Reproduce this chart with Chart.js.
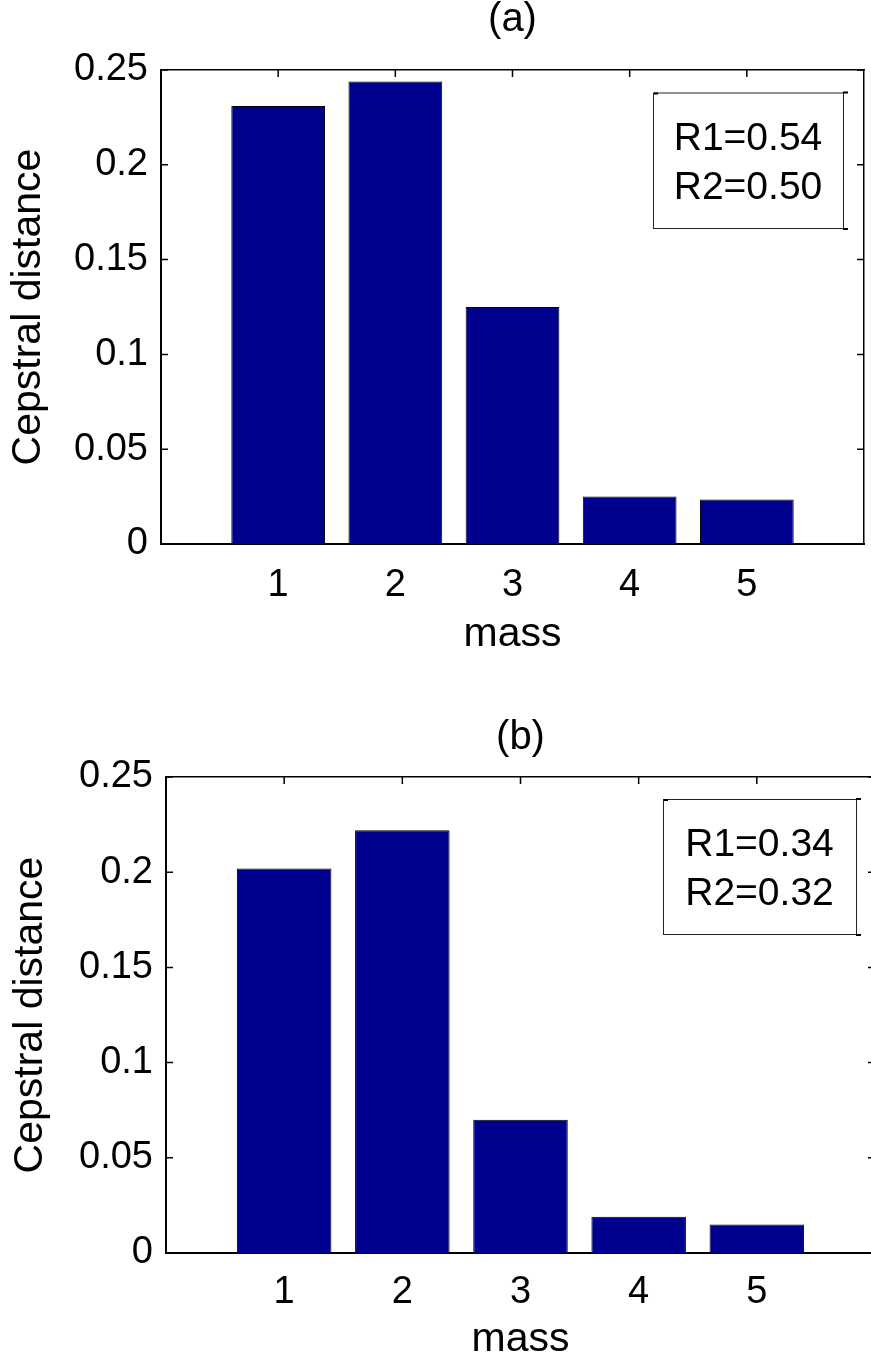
<!DOCTYPE html>
<html>
<head>
<meta charset="utf-8">
<title>Cepstral distance by mass</title>
<script src="https://cdn.jsdelivr.net/npm/chart.js@4/dist/chart.umd.min.js"></script>
<style>
  html, body { margin: 0; padding: 0; background: #fff; width: 871px; height: 1365px; overflow: hidden; position: relative; }
  canvas { position: absolute; left: 0; }
  #chartA { top: 0; }
  #chartB { top: 700px; }
</style>
</head>
<body>
<canvas id="chartA" width="871" height="690"></canvas>
<canvas id="chartB" width="880" height="665"></canvas>
<script>
// ---- data ----
const massValues = [1, 2, 3, 4, 5];
const distanceA = [0.231, 0.244, 0.125, 0.025, 0.0235];
const distanceB = [0.202, 0.222, 0.070, 0.019, 0.015];
const distanceTicks = [0, 0.05, 0.1, 0.15, 0.2, 0.25];
const distanceTickLabels = ['0', '0.05', '0.1', '0.15', '0.2', '0.25'];
const statsA = ['R1=0.54', 'R2=0.50'];
const statsB = ['R1=0.34', 'R2=0.32'];

const FONT = "'Liberation Sans', Arial, Helvetica, sans-serif";
const BAR_COLOR = '#00008F';

// short inward tick marks on all four sides of the axes box
const innerTicks = {
  id: 'innerTicks',
  beforeDatasetsDraw(chart, args, opts) {
    const { ctx, chartArea: a, scales } = chart;
    const len = opts.length;
    ctx.save();
    ctx.strokeStyle = '#000';
    ctx.lineWidth = opts.width;
    ctx.beginPath();
    for (const t of scales.x.ticks) {
      const px = scales.x.getPixelForValue(t.value);
      ctx.moveTo(px, a.bottom); ctx.lineTo(px, a.bottom - len);
    }
    for (const t of scales.x2.ticks) {
      const px = scales.x2.getPixelForValue(t.value);
      ctx.moveTo(px, a.top); ctx.lineTo(px, a.top + len);
    }
    for (const t of scales.y.ticks) {
      const py = scales.y.getPixelForValue(t.value);
      ctx.moveTo(a.left, py); ctx.lineTo(a.left + len, py);
    }
    for (const t of scales.y2.ticks) {
      const py = scales.y2.getPixelForValue(t.value);
      ctx.moveTo(a.right, py); ctx.lineTo(a.right - len, py);
    }
    ctx.stroke();
    ctx.restore();
  }
};

// boxed text annotation with the R1/R2 values
const statsBox = {
  id: 'statsBox',
  afterDatasetsDraw(chart, args, opts) {
    const { ctx } = chart;
    const { left, top, width, height, lines, size, gap } = opts;
    ctx.save();
    ctx.fillStyle = '#fff';
    ctx.fillRect(left, top, width, height);
    ctx.strokeStyle = '#222';
    ctx.lineWidth = 1;
    ctx.strokeRect(left + 0.5, top + 0.5, width, height);
    ctx.fillStyle = '#000';
    ctx.fillRect(left + 1, top, 4, 2);
    ctx.fillRect(left + width, top - 1, 5, 2);
    ctx.fillRect(left + width, top + height, 5, 2);
    ctx.font = size + 'px ' + FONT;
    ctx.textAlign = 'center';
    ctx.textBaseline = 'alphabetic';
    const cap = size * 0.716;
    const block = cap + gap * (lines.length - 1);
    let base = top + height / 2 - block / 2 + cap;
    const cx = left + width / 2;
    for (const line of lines) {
      ctx.fillText(line, cx, base);
      base += gap;
    }
    ctx.restore();
  }
};

function makePanel(canvasId, p) {
  const tickFont = { family: FONT, size: 38 };
  const labelFont = { family: FONT, size: 41, lineHeight: 1 };
  return new Chart(document.getElementById(canvasId), {
    type: 'bar',
    data: {
      datasets: [{
        data: massValues.map((m, i) => ({ x: m, y: p.values[i] })),
        backgroundColor: BAR_COLOR,
        borderColor: '#000',
        borderWidth: 1,
        barPercentage: 0.8,
        categoryPercentage: 1
      }]
    },
    options: {
      responsive: false,
      animation: false,
      events: [],
      layout: { padding: { left: 0, right: p.padRight, top: 0, bottom: 0 } },
      plugins: {
        legend: { display: false },
        tooltip: { enabled: false },
        title: {
          display: true,
          text: p.title,
          fullSize: false,
          color: '#000',
          font: { family: FONT, size: 40, weight: 'normal', lineHeight: 1 },
          padding: { top: p.titleTop, bottom: p.titleBottom }
        },
        innerTicks: { length: 7, width: 1.5 },
        statsBox: Object.assign({ lines: p.stats, size: 39, gap: 49 }, p.box)
      },
      scales: {
        x: {
          type: 'linear', position: 'bottom', min: 0, max: 6, offset: false,
          afterBuildTicks: s => { s.ticks = massValues.map(v => ({ value: v })); },
          afterFit: s => { s.height = p.xAxisHeight; },
          ticks: { color: '#000', font: tickFont, padding: p.xTickPad, maxRotation: 0, autoSkip: false,
                   callback: v => String(v) },
          grid: { display: false, drawTicks: false, offset: false },
          border: { display: true, color: '#000', width: 2 },
          title: { display: true, text: 'mass', color: '#000', font: labelFont, padding: { top: 0, bottom: p.xTitlePad } }
        },
        x2: {
          type: 'linear', position: 'top', min: 0, max: 6, offset: false,
          afterBuildTicks: s => { s.ticks = massValues.map(v => ({ value: v })); },
          afterFit: s => { s.height = 0; },
          ticks: { display: false },
          grid: { display: false, drawTicks: false, offset: false },
          border: { display: true, color: '#000', width: 1.5 }
        },
        y: {
          type: 'linear', position: 'left', min: 0, max: 0.25,
          afterBuildTicks: s => { s.ticks = distanceTicks.map(v => ({ value: v })); },
          afterFit: s => { s.width = p.yAxisWidth; },
          ticks: { color: '#000', font: tickFont, padding: 13,
                   callback: (v, i) => distanceTickLabels[i] },
          grid: { display: false, drawTicks: false },
          border: { display: true, color: '#000', width: 2 },
          title: { display: true, text: 'Cepstral distance', color: '#000', font: labelFont, padding: { top: p.yTitlePad, bottom: 0 } }
        },
        y2: {
          type: 'linear', position: 'right', min: 0, max: 0.25,
          afterBuildTicks: s => { s.ticks = distanceTicks.map(v => ({ value: v })); },
          afterFit: s => { s.width = 0; },
          ticks: { display: false },
          grid: { display: false, drawTicks: false },
          border: { display: true, color: '#000', width: 1.5 }
        }
      }
    },
    plugins: [innerTicks, statsBox]
  });
}

makePanel('chartA', {
  title: '(a)', values: distanceA, stats: statsA,
  titleTop: 0, titleBottom: 30,
  padRight: 7, yAxisWidth: 161, xAxisHeight: 146,
  xTickPad: 19, xTitlePad: 35, yTitlePad: 8,
  box: { left: 653, top: 92.5, width: 190, height: 135.5 }
});

makePanel('chartB', {
  title: '(b)', values: distanceB, stats: statsB,
  titleTop: 18, titleBottom: 19,
  padRight: 5, yAxisWidth: 166, xAxisHeight: 112,
  xTickPad: 17, xTitlePad: 5, yTitlePad: 10,
  box: { left: 663, top: 99, width: 193, height: 135 }
});
</script>
</body>
</html>
